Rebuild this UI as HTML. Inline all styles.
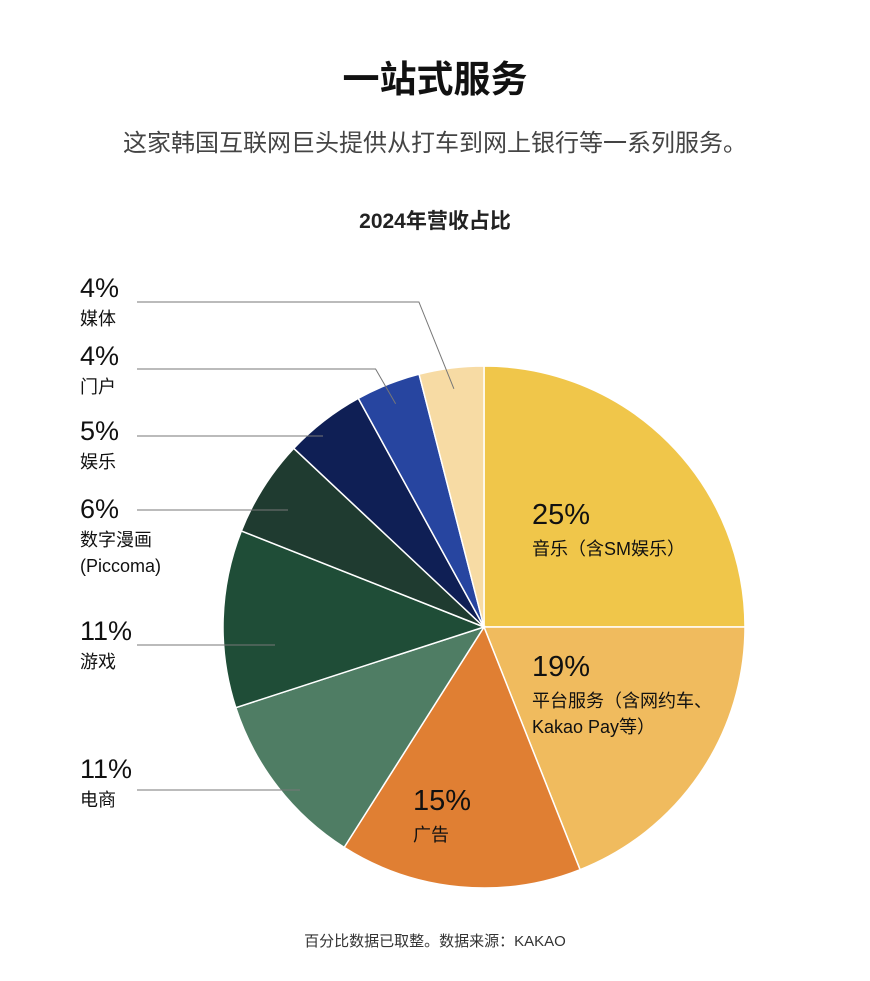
<!DOCTYPE html>
<html><head><meta charset="utf-8"><style>
body{margin:0;background:#fff;font-family:"Liberation Sans","Noto Sans CJK SC",sans-serif;}
svg text{font-family:"Liberation Sans","Noto Sans CJK SC",sans-serif;}
</style></head><body>
<svg width="870" height="976" viewBox="0 0 870 976" xmlns="http://www.w3.org/2000/svg">
<text x="435" y="92" text-anchor="middle" font-size="37" font-weight="bold" fill="#111">一站式服务</text>
<text x="435" y="151" text-anchor="middle" font-size="24" fill="#444">这家韩国互联网巨头提供从打车到网上银行等一系列服务。</text>
<text x="435" y="228" text-anchor="middle" font-size="21" font-weight="bold" fill="#222">2024年营收占比</text>
<g id="pie"></g>
<g id="labels"></g>
<text x="435" y="946" text-anchor="middle" font-size="15" fill="#333">百分比数据已取整。数据来源：KAKAO</text>
</svg>
<script>
const categories=["音乐（含SM娱乐）","平台服务（含网约车、Kakao Pay等）","广告","电商","游戏","数字漫画(Piccoma)","娱乐","门户","媒体"];
const values=[25,19,15,11,11,6,5,4,4];
const colors=["#f0c64a","#f0bb5e","#e07f33","#4f7d64","#1f4d37","#1f3b30","#0f1f55","#2745a0","#f7dba4"];
const cx=484,cy=627,r=261;
const NS="http://www.w3.org/2000/svg";
const pie=document.getElementById('pie');
const total=values.reduce((a,b)=>a+b,0);
function pt(a,rr){return [cx+rr*Math.sin(a),cy-rr*Math.cos(a)];}
let acc=0;const mids=[];
values.forEach((v,i)=>{
  const a0=acc/total*2*Math.PI;acc+=v;const a1=acc/total*2*Math.PI;
  mids.push((a0+a1)/2);
  const p0=pt(a0,r),p1=pt(a1,r);
  const p=document.createElementNS(NS,'path');
  p.setAttribute('d',`M${cx},${cy}L${p0[0]},${p0[1]}A${r},${r} 0 ${a1-a0>Math.PI?1:0} 1 ${p1[0]},${p1[1]}Z`);
  p.setAttribute('fill',colors[i]);p.setAttribute('stroke','#fff');p.setAttribute('stroke-width','1.5');
  
  
  pie.appendChild(p);
});
const lab=document.getElementById('labels');
function txt(x,y,s,size,fill,name){const t=document.createElementNS(NS,'text');t.setAttribute('x',x);t.setAttribute('y',y);t.setAttribute('font-size',size);t.setAttribute('fill',fill);t.textContent=s;


lab.appendChild(t);}
const inside=[[532,524,["音乐（含SM娱乐）"]],[532,676,["平台服务（含网约车、","Kakao Pay等）"]],[413,810,["广告"]]];
inside.forEach((d,i)=>{txt(d[0],d[1],values[i]+'%',29,'#111','value-label');d[2].forEach((s,j)=>txt(d[0],d[1]+31+j*26,s,18,'#111','category-label'));});
// [index, text baseline y, lines, line y, line end x]
const outs=[[3,778,["电商"],790,300],[4,640,["游戏"],645,275],[5,518,["数字漫画","(Piccoma)"],510,288],[6,440,["娱乐"],436,323],[7,365,["门户"],369,null],[8,297,["媒体"],302,null]];
outs.forEach(d=>{const i=d[0],y=d[1];
  txt(80,y,values[i]+'%',27,'#111','value-label');
  d[2].forEach((s,j)=>txt(80,y+28+j*26,s,18,'#111','category-label'));
  const ly=d[3];
  const pl=document.createElementNS(NS,'polyline');
  let pts;
  if(d[4]!==null){pts=`137,${ly} ${d[4]},${ly}`;}
  else{const m=pt(mids[i],r*0.92);const ex=i===8?m[0]-35:m[0]-20;pts=`137,${ly} ${ex},${ly} ${m[0]},${m[1]}`;}
  pl.setAttribute('points',pts);pl.setAttribute('fill','none');pl.setAttribute('stroke','#777');pl.setAttribute('stroke-width','1');
  
  
  lab.appendChild(pl);
});
</script>
</body></html>
